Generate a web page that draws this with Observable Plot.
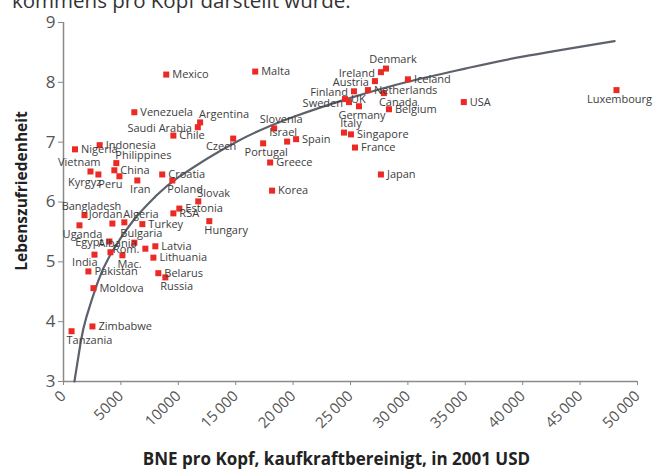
<!DOCTYPE html>
<html><head><meta charset="utf-8">
<script src="https://cdn.jsdelivr.net/npm/d3@7"></script>
<script src="https://cdn.jsdelivr.net/npm/@observablehq/plot@0.6"></script>
<style>
body{margin:0;background:#fff;font-family:"Open Sans",sans-serif;}
#wrap{position:relative;width:665px;height:471px;overflow:hidden;}
#top{position:absolute;left:12px;top:-14px;font-size:20.5px;color:#333;white-space:nowrap;z-index:2;}
#chart{position:absolute;left:0;top:0;}
</style></head><body>
<div id="wrap"><div id="top">kommens pro Kopf darstellt wurde.</div><div id="chart"></div></div>
<script>
const countries = ["Mexico","Venezuela","Saudi Arabia","Argentina","Chile","Indonesia","Nigeria","Philippines","Vietnam","China","Kyrgyz","Peru","Iran","Croatia","Poland","Slovak","Estonia","RSA","Hungary","Turkey","Algeria","Jordan","Bangladesh","Uganda","Egypt","Bulgaria","Albania","Rom.","Latvia","Lithuania","India","Mac.","Pakistan","Belarus","Russia","Moldova","Zimbabwe","Tanzania","Malta","Denmark","Ireland","Austria","Iceland","Netherlands","Finland","UK","Sweden","Germany","Canada","Belgium","Italy","Singapore","France","Japan","Slovenia","Israel","Spain","Portugal","Czech","Greece","Korea","USA","Luxembourg"];
const gni = [8950,6170,11700,11900,9570,3150,1000,4600,2350,4430,3040,4870,6430,8600,9480,11740,10090,9570,12700,6870,5300,4260,1830,1390,4000,6170,4090,7130,8000,7830,2700,5130,2170,8260,8870,2610,2520,700,16700,28090,27650,27130,30000,26520,25300,24520,24870,25740,27910,28350,24430,25040,25390,27650,18350,19480,20260,17390,14780,18000,18170,34870,48170];
const lifeSatisfaction = [8.13,7.50,7.25,7.33,7.11,6.95,6.88,6.65,6.51,6.53,6.46,6.43,6.36,6.46,6.36,6.01,5.89,5.81,5.68,5.63,5.66,5.64,5.78,5.61,5.34,5.32,5.16,5.22,5.26,5.07,5.12,5.11,4.84,4.81,4.74,4.56,3.92,3.84,8.18,8.23,8.17,8.02,8.05,7.87,7.85,7.72,7.67,7.60,7.82,7.55,7.16,7.13,6.91,6.46,7.23,7.01,7.05,6.98,7.06,6.66,6.19,7.67,7.87];

// label placement groups (all others are labelled to the right)
const labelLeft = ["Saudi Arabia","Egypt","Rom.","Ireland","Austria","Finland","Sweden"];
const labelAboveLeft = ["Vietnam","Jordan","Israel"];
const labelBelowLeft = ["Kyrgyz","Peru","India","Czech"];
const labelAbove = ["Denmark","Italy","Slovenia","Bangladesh","Bulgaria","Albania"];
const labelAboveRight = ["Slovak","Philippines","Algeria","Argentina"];
const labelBelow = ["Uganda","Germany","Portugal","Luxembourg","Iran"];
const labelBelowRight = ["Poland","Hungary","Mac.","Russia","Tanzania","Canada"];

// fitted curve
const curveGni = [950,1500,2000,3000,4000,6000,8000,10000,15000,20000,25000,30000,35000,40000,48000];
const curveSat = [3.0,3.66,4.08,4.67,5.09,5.67,6.09,6.41,7.00,7.42,7.74,8.01,8.23,8.43,8.69];

const yTicks = [3,4,5,6,7,8,9];
const xTicks = [0,5000,10000,15000,20000,25000,30000,35000,40000,45000,50000];
const xTickLabels = ["0","5000","10000","15\u2009000","20\u2009000","25\u2009000","30\u2009000","35\u2009000","40\u2009000","45\u2009000","50\u2009000"];

const yTitle = "Lebenszufriedenheit";
const xTitle = "BNE pro Kopf, kaufkraftbereinigt, in 2001 USD";

const data = countries.map((c,i)=>({country:c, gni:gni[i], sat:lifeSatisfaction[i]}));
const curveData = curveGni.map((g,i)=>({gni:g, sat:curveSat[i]}));
const groups = [labelLeft,labelAboveLeft,labelBelowLeft,labelAbove,labelAboveRight,labelBelow,labelBelowRight];
const inGroup = g => data.filter(d=>g.includes(d.country));
const right = data.filter(d=>!groups.some(g=>g.includes(d.country)));

const labStyle = {x:"gni", y:"sat", text:"country", fontSize:11, fill:"#3d3d3d"};

const chart = Plot.plot({
  width:665, height:471,
  marginTop:22, marginLeft:63, marginRight:28, marginBottom:90,
  style:{fontFamily:"'Open Sans', sans-serif", background:"transparent", overflow:"visible"},
  x:{domain:[0,50000]},
  y:{domain:[3,9]},
  marks:[
    Plot.axisY({ticks:yTicks, tickSize:5, tickPadding:3, fontSize:17, color:"#555", label:null, stroke:"#888", tickFormat:d=>String(d)}),
    Plot.axisX({ticks:xTicks, tickSize:4, tickRotate:-45, tickPadding:8, fontSize:15, color:"#555", label:null, stroke:"#888",
      tickFormat:(d)=>xTickLabels[xTicks.indexOf(d)]}),
    Plot.ruleX([0], {y1:3, y2:9, stroke:"#8a8a8a", strokeWidth:1.5}),
    Plot.ruleY([3], {x1:0, x2:50000, stroke:"#8a8a8a", strokeWidth:1.5}),
    Plot.line(curveData, {x:"gni", y:"sat", curve:"natural", stroke:"#5d616b", strokeWidth:2.2}),
    Plot.dot(data, {x:"gni", y:"sat", symbol:"square", r:3.4, fill:"#eb2a25", stroke:"none"}),
    Plot.text(right, {...labStyle, textAnchor:"start", dx:6, dy:0}),
    Plot.text(inGroup(labelLeft), {...labStyle, textAnchor:"end", dx:-6, dy:1}),
    Plot.text(inGroup(labelAboveLeft), {...labStyle, textAnchor:"end", dx:10, dy:-9}),
    Plot.text(inGroup(labelBelowLeft), {...labStyle, textAnchor:"end", dx:3, dy:8}),
    Plot.text(inGroup(labelAbove), {...labStyle, textAnchor:"middle", dx:7, dy:-9}),
    Plot.text(inGroup(labelAboveRight), {...labStyle, textAnchor:"start", dx:-1, dy:-8}),
    Plot.text(inGroup(labelBelow), {...labStyle, textAnchor:"middle", dx:3, dy:9}),
    Plot.text(inGroup(labelBelowRight), {...labStyle, textAnchor:"start", dx:-5, dy:9}),
    Plot.text([yTitle], {frameAnchor:"left", textAnchor:"middle", rotate:-90, dx:-41, dy:-11, fontSize:15.5, fontWeight:"bold", fill:"#222"}),
    Plot.text([xTitle], {frameAnchor:"bottom", textAnchor:"middle", dx:-14, dy:83, fontSize:17, fontWeight:"bold", fill:"#222"})
  ]
});
document.getElementById("chart").appendChild(chart);
</script>
</body></html>
